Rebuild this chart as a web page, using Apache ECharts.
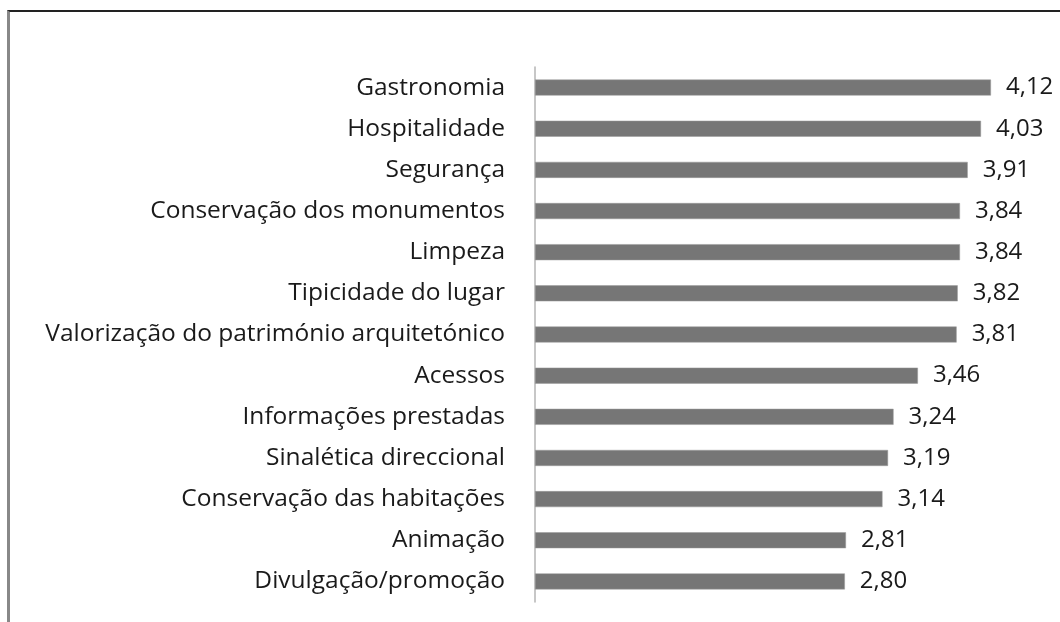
<!DOCTYPE html>
<html lang="pt">
<head>
<meta charset="UTF-8" />
<title>Avaliação</title>
<script src="https://cdn.jsdelivr.net/npm/echarts@6/dist/echarts.min.js"></script>
<style>
  html, body { margin: 0; padding: 0; background: #fff; }
  #frame {
    position: absolute; left: 7px; top: 10px; width: 1053px; height: 612px;
    border-top: 2px solid #222; border-left: 3px solid #888; box-sizing: border-box;
  }
  #chart { position: absolute; left: 0; top: 0; width: 1060px; height: 622px; }
</style>
</head>
<body>
<div id="frame"></div>
<div id="chart"></div>
<script>
  const categories = [
    "Gastronomia",
    "Hospitalidade",
    "Segurança",
    "Conservação dos monumentos",
    "Limpeza",
    "Tipicidade do lugar",
    "Valorização do património arquitetónico",
    "Acessos",
    "Informações prestadas",
    "Sinalética direccional",
    "Conservação das habitações",
    "Animação",
    "Divulgação/promoção"
  ];
  const values = [4.12, 4.03, 3.91, 3.84, 3.84, 3.82, 3.81, 3.46, 3.24, 3.19, 3.14, 2.81, 2.80];

  const myChart = echarts.init(document.getElementById("chart"));
  myChart.setOption({
    animation: false,
    grid: { left: 535, top: 67, width: 498, height: 535, containLabel: false },
    xAxis: {
      type: "value", min: 0, max: 4.5, show: false
    },
    yAxis: {
      type: "category",
      inverse: true,
      data: categories,
      axisLine: { lineStyle: { color: "#b5b5b5", width: 1.5 } },
      axisTick: { show: false },
      axisLabel: {
        margin: 30, color: "#1a1a1a", fontSize: 24.5, fontFamily: "Open Sans"
      }
    },
    series: [{
      type: "bar",
      data: values,
      barWidth: 16,
      itemStyle: { color: "#767676", borderColor: "#9a9a9a", borderWidth: 0.5 },
      label: {
        show: true, position: "right", distance: 15,
        color: "#1a1a1a", fontSize: 24, fontFamily: "Open Sans",
        formatter: (p) => p.value.toFixed(2).replace(".", ",")
      }
    }]
  });
</script>
</body>
</html>
